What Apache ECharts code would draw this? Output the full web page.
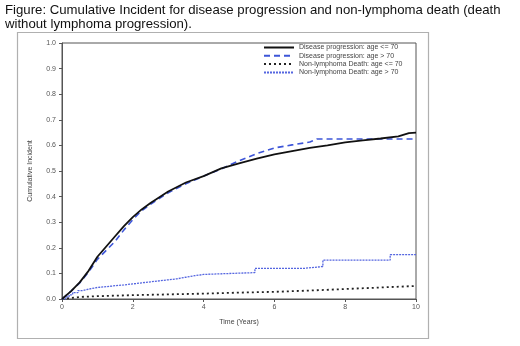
<!DOCTYPE html>
<html>
<head>
<meta charset="utf-8">
<script src="https://cdn.jsdelivr.net/npm/echarts@6/dist/echarts.min.js"></script>
<style>
  html, body { margin: 0; padding: 0; background: #fff; }
  #chart { width: 520px; height: 346px; }
</style>
</head>
<body>
<div id="chart"></div>
<script>
// values
const progYoungX = [0, 0.25, 0.5, 0.75, 1, 1.25, 1.5, 1.75, 2, 2.25, 2.5, 3, 3.5, 4, 4.5, 5, 5.5, 6, 6.5, 7, 7.5, 8, 8.5, 9, 9.5, 9.8, 10];
const progYoungY = [0, 0.03, 0.065, 0.11, 0.165, 0.205, 0.245, 0.285, 0.32, 0.35, 0.375, 0.42, 0.455, 0.48, 0.51, 0.53, 0.548, 0.565, 0.578, 0.59, 0.6, 0.612, 0.62, 0.627, 0.635, 0.648, 0.65];

const progOldX = [0, 0.25, 0.5, 0.75, 1, 1.25, 1.5, 1.75, 2, 2.25, 2.5, 3, 3.5, 4, 4.5, 5, 5.5, 6, 6.5, 7, 7.2, 10];
const progOldY = [0, 0.03, 0.063, 0.105, 0.155, 0.19, 0.225, 0.27, 0.31, 0.345, 0.37, 0.415, 0.45, 0.48, 0.508, 0.54, 0.568, 0.59, 0.602, 0.613, 0.625, 0.625];

const deathYoungX = [0, 0.5, 1, 2, 3, 4, 5, 6, 7, 8, 9, 10];
const deathYoungY = [0, 0.008, 0.011, 0.015, 0.018, 0.021, 0.025, 0.028, 0.033, 0.039, 0.045, 0.051];

const deathOldX = [0, 0.1, 0.2, 0.3, 0.45, 0.6, 0.8, 1.0, 1.25, 1.5, 1.75, 2, 2.25, 2.5, 2.75, 3, 3.25, 3.5, 3.75, 4, 4.8, 5.45, 6.86, 7.37, 9.27, 10];
const deathOldY = [0, 0.008, 0.016, 0.025, 0.033, 0.04, 0.045, 0.048, 0.052, 0.055, 0.059, 0.063, 0.067, 0.071, 0.075, 0.079, 0.085, 0.091, 0.096, 0.1, 0.103, 0.12, 0.127, 0.152, 0.173, 0.173];

const seriesNames = [
  'Disease progression: age <= 70',
  'Disease progression: age > 70',
  'Non-lymphoma Death: age <= 70',
  'Non-lymphoma Death: age > 70'
];

const pairs = (xs, ys) => xs.map((x, i) => [x, ys[i]]);

const chart = echarts.init(document.getElementById('chart'));
const font = 'Liberation Sans, Arial, sans-serif';

chart.setOption({
  animation: false,
  backgroundColor: '#fff',
  title: {
    text: 'Figure: Cumulative Incident for disease progression and non-lymphoma death (death\nwithout lymphoma progression).',
    left: 5,
    top: 3,
    padding: 0,
    textStyle: { fontFamily: font, fontSize: 13.2, fontWeight: 'normal', color: '#111', lineHeight: 14 }
  },
  graphic: [
    {
      type: 'rect',
      shape: { x: 17.5, y: 32.5, width: 411, height: 306 },
      style: { fill: 'none', stroke: '#b0b0b0', lineWidth: 1.2 },
      z: -1
    }
  ],
  legend: {
    orient: 'vertical',
    left: 263,
    top: 44,
    padding: 0,
    itemWidth: 30,
    itemHeight: 6,
    itemGap: 1.3,
    itemStyle: { opacity: 0 },
    data: seriesNames,
    textStyle: { fontFamily: font, fontSize: 7, color: '#444', lineHeight: 6 }
  },
  grid: { left: 62, right: 104, top: 43, bottom: 47, show: true, borderColor: '#555', borderWidth: 1 },
  xAxis: {
    type: 'value',
    min: 0,
    max: 10,
    interval: 2,
    name: 'Time (Years)',
    nameLocation: 'middle',
    nameGap: 20,
    nameTextStyle: { fontFamily: font, fontSize: 7, color: '#444' },
    axisLine: { lineStyle: { color: '#555' } },
    axisTick: { show: true, length: 3, lineStyle: { color: '#555' } },
    axisLabel: { fontFamily: font, fontSize: 7, color: '#555', margin: 5 },
    splitLine: { show: false }
  },
  yAxis: {
    type: 'value',
    min: 0,
    max: 1,
    interval: 0.1,
    name: 'Cumulative Incident',
    nameLocation: 'middle',
    nameGap: 28,
    nameTextStyle: { fontFamily: font, fontSize: 7, color: '#444' },
    axisLine: { show: true, lineStyle: { color: '#555' } },
    axisTick: { show: true, length: 3, lineStyle: { color: '#555' } },
    axisLabel: { fontFamily: font, fontSize: 7, color: '#555', margin: 6, formatter: v => v.toFixed(1) },
    splitLine: { show: false }
  },
  series: [
    {
      name: seriesNames[0],
      type: 'line',
      data: pairs(progYoungX, progYoungY),
      showSymbol: false,
      symbol: 'none',
      color: '#111',
      lineStyle: { color: '#111', width: 1.8, type: 'solid' },
      z: 4
    },
    {
      name: seriesNames[1],
      type: 'line',
      data: pairs(progOldX, progOldY),
      showSymbol: false,
      symbol: 'none',
      color: '#3d55d8',
      lineStyle: { color: '#3d55d8', width: 1.6, type: [6, 4] },
      z: 3
    },
    {
      name: seriesNames[2],
      type: 'line',
      data: pairs(deathYoungX, deathYoungY),
      showSymbol: false,
      symbol: 'none',
      color: '#222',
      lineStyle: { color: '#222', width: 1.8, type: [2, 3] },
      z: 2
    },
    {
      name: seriesNames[3],
      type: 'line',
      step: 'end',
      data: pairs(deathOldX, deathOldY),
      showSymbol: false,
      symbol: 'none',
      color: '#5566e0',
      lineStyle: { color: '#5566e0', width: 1.3, type: [2, 1] },
      z: 2
    }
  ]
});
</script>
</body>
</html>
